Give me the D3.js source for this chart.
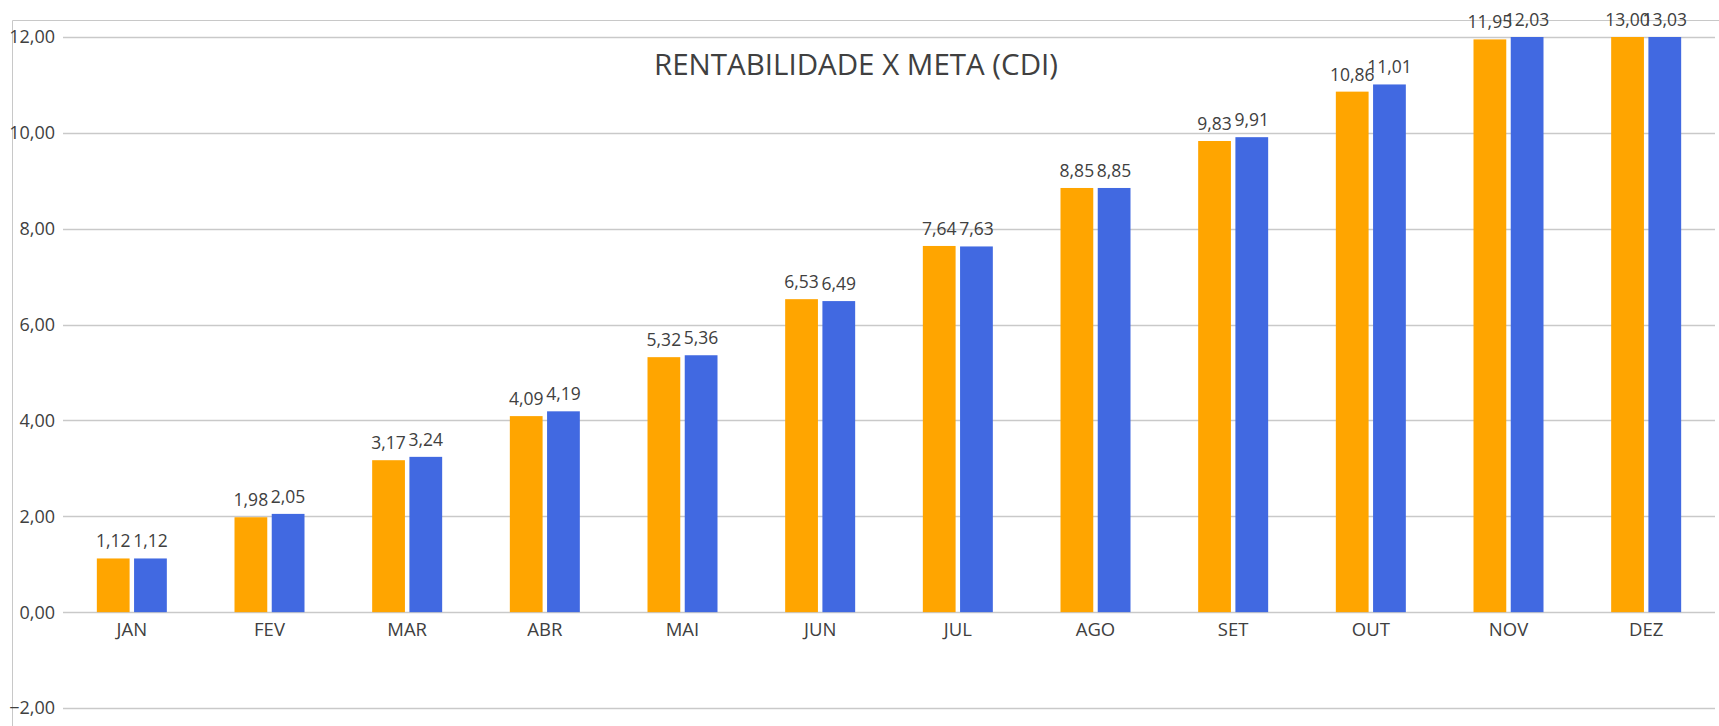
<!DOCTYPE html>
<html>
<head>
<meta charset="utf-8">
<script src="https://cdn.jsdelivr.net/npm/d3@7"></script>
<style>
  body { margin: 0; background: #fff; }
  svg { display: block; font-family: "Open Sans", sans-serif; }
</style>
</head>
<body>
<svg id="chart" width="1719" height="726"></svg>
<script>
// monthly data
var months = ["JAN", "FEV", "MAR", "ABR", "MAI", "JUN", "JUL", "AGO", "SET", "OUT", "NOV", "DEZ"];
var rentabilidade = [1.12, 1.98, 3.17, 4.09, 5.32, 6.53, 7.64, 8.85, 9.83, 10.86, 11.95, 13.00];
var meta = [1.12, 2.05, 3.24, 4.19, 5.36, 6.49, 7.63, 8.85, 9.91, 11.01, 12.03, 13.03];
var yTicks = [-2, 0, 2, 4, 6, 8, 10, 12];
var seriesNames = ["rentabilidade", "meta"];
var seriesColors = ["#FFA500", "#4169E1"];

var svg = d3.select('#chart');
var left = 63, right = 1715;
var textColor = "#404040";

var fmt = function(v) { return d3.format(".2f")(v).replace(".", ","); };

var x = d3.scaleBand()
    .domain(months)
    .range([left, right]);

var x1 = d3.scaleBand()
    .domain(seriesNames)
    .range([x.bandwidth() / 2 - 35, x.bandwidth() / 2 + 35])
    .paddingInner(0.12);

var y = d3.scaleLinear()
    .domain([-2, 12])
    .range([708, 37])
    .clamp(true);

// outer chart border (top and left edges visible)
svg.append('line')
    .attr('x1', 12.5).attr('x2', 12.5)
    .attr('y1', 20.5).attr('y2', 726)
    .attr('stroke', '#c8c8c8');
svg.append('line')
    .attr('x1', 12.5).attr('x2', 1719)
    .attr('y1', 20.5).attr('y2', 20.5)
    .attr('stroke', '#c8c8c8');

// gridlines
svg.append('g').selectAll('line')
    .data(yTicks)
    .enter()
    .append('line')
    .attr('x1', left).attr('x2', right)
    .attr('y1', d => Math.round(y(d)) + 0.5)
    .attr('y2', d => Math.round(y(d)) + 0.5)
    .attr('stroke', '#c9c9c9')
    .attr('stroke-width', 1.3);

// y tick labels
svg.append('g').selectAll('text')
    .data(yTicks)
    .enter()
    .append('text')
    .attr('x', 55)
    .attr('y', d => y(d))
    .attr('dy', '0.36em')
    .attr('text-anchor', 'end')
    .attr('fill', textColor)
    .style('font-size', '18px')
    .text(d => fmt(d));

// x labels
svg.append('g').selectAll('text')
    .data(months)
    .enter()
    .append('text')
    .attr('x', d => x(d) + x.bandwidth() / 2)
    .attr('y', 636)
    .attr('text-anchor', 'middle')
    .attr('fill', textColor)
    .style('font-size', '18.5px')
    .text(d => d);

// bars + labels per series
var rows = months.map(function(m, i) {
    return { month: m, values: [rentabilidade[i], meta[i]] };
});

var groups = svg.append('g').selectAll('g')
    .data(rows)
    .enter()
    .append('g')
    .attr('transform', d => 'translate(' + x(d.month) + ',0)');

groups.selectAll('rect')
    .data(d => d.values.map((v, j) => ({ key: seriesNames[j], value: v, color: seriesColors[j] })))
    .enter()
    .append('rect')
    .attr('x', d => x1(d.key))
    .attr('width', x1.bandwidth())
    .attr('y', d => y(d.value))
    .attr('height', d => y(0) - y(d.value))
    .attr('fill', d => d.color);

// value labels (overlapping pairs as in the source)
groups.selectAll('text')
    .data(d => d.values.map((v, j) => ({ key: seriesNames[j], value: v })))
    .enter()
    .append('text')
    .attr('x', d => x1(d.key) + x1.bandwidth() / 2)
    .attr('y', d => y(d.value) - 11)
    .attr('text-anchor', 'middle')
    .attr('fill', textColor)
    .style('font-size', '17.5px')
    .text(d => fmt(d.value));

// title
svg.append('text')
    .attr('x', 856)
    .attr('y', 75)
    .attr('text-anchor', 'middle')
    .attr('fill', textColor)
    .style('font-size', '29.5px')
    .text('RENTABILIDADE X META (CDI)');
</script>
</body>
</html>
